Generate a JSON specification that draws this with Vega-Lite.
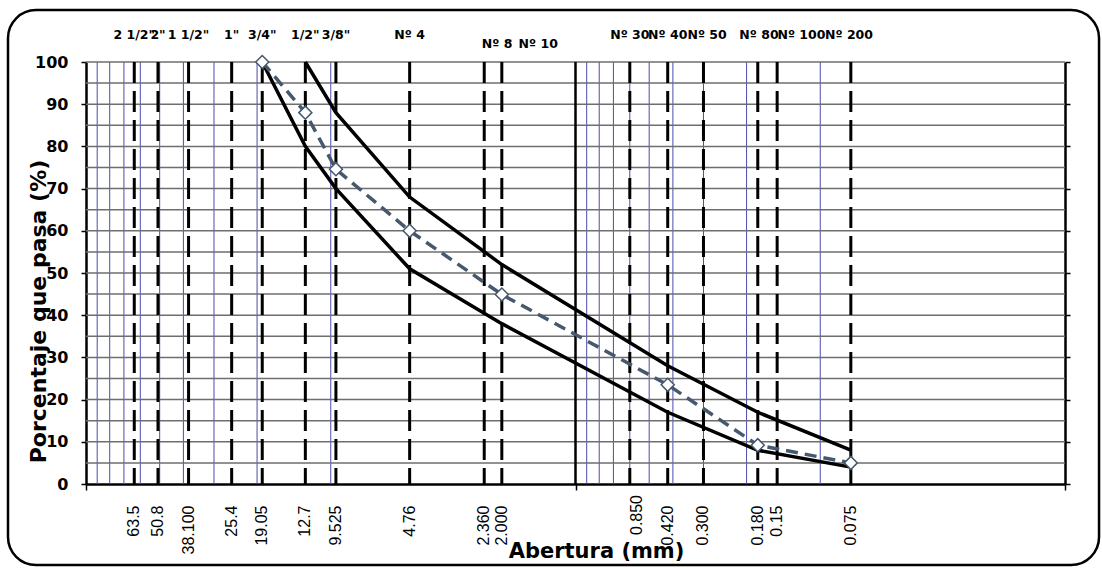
{
  "$schema": "https://vega.github.io/schema/vega-lite/v6.json",
  "width": 979,
  "height": 422,
  "autosize": {"type": "none"},
  "padding": {"left": 86, "top": 62, "right": 37, "bottom": 84},
  "background": "white",
  "config": {"view": {"stroke": null}, "font": "DejaVu Sans"},
  "datasets": {
    "sieves": [
      {"pos": 63.5, "lx": 63.5, "ly": -5.1, "label": "63.5"},
      {"pos": 50.8, "lx": 50.8, "ly": -5.1, "label": "50.8"},
      {"pos": 38.1, "lx": 38.1, "ly": -5.1, "label": "38.100"},
      {"pos": 25.4, "lx": 25.4, "ly": -5.1, "label": "25.4"},
      {"pos": 19.05, "lx": 19.05, "ly": -5.1, "label": "19.05"},
      {"pos": 12.7, "lx": 12.7, "ly": -5.1, "label": "12.7"},
      {"pos": 9.525, "lx": 9.525, "ly": -5.1, "label": "9.525"},
      {"pos": 4.76, "lx": 4.76, "ly": -5.1, "label": "4.76"},
      {"pos": 2.36, "lx": 2.36, "ly": -5.1, "label": "2.360"},
      {"pos": 2.0, "lx": 2.0, "ly": -5.1, "label": "2.000"},
      {"pos": 0.6, "lx": 0.562, "ly": -2.6, "label": "0.850"},
      {"pos": 0.42, "lx": 0.42, "ly": -5.1, "label": "0.420"},
      {"pos": 0.3, "lx": 0.3, "ly": -5.1, "label": "0.300"},
      {"pos": 0.18, "lx": 0.18, "ly": -5.1, "label": "0.180"},
      {"pos": 0.15, "lx": 0.15, "ly": -5.1, "label": "0.15"},
      {"pos": 0.075, "lx": 0.075, "ly": -5.1, "label": "0.075"}
    ],
    "names": [
      {"lx": 63.5, "ly": 106.5, "label": "2 1/2\""},
      {"lx": 50.8, "ly": 106.5, "label": "2\""},
      {"lx": 38.1, "ly": 106.5, "label": "1 1/2\""},
      {"lx": 25.4, "ly": 106.5, "label": "1\""},
      {"lx": 19.05, "ly": 106.5, "label": "3/4\""},
      {"lx": 12.7, "ly": 106.5, "label": "1/2\""},
      {"lx": 9.525, "ly": 106.5, "label": "3/8\""},
      {"lx": 4.76, "ly": 106.5, "label": "Nº 4"},
      {"lx": 2.09, "ly": 104.3, "label": "Nº 8"},
      {"lx": 1.42, "ly": 104.3, "label": "Nº 10"},
      {"lx": 0.6, "ly": 106.5, "label": "Nº 30"},
      {"lx": 0.42, "ly": 106.5, "label": "Nº 40"},
      {"lx": 0.29, "ly": 106.5, "label": "Nº 50"},
      {"lx": 0.178, "ly": 106.5, "label": "Nº 80"},
      {"lx": 0.1193, "ly": 106.5, "label": "Nº 100"},
      {"lx": 0.0763, "ly": 106.5, "label": "Nº 200"}
    ],
    "limits": [
      {"serie": "sup", "size": 12.7, "pct": 100},
      {"serie": "sup", "size": 9.525, "pct": 88},
      {"serie": "sup", "size": 4.76, "pct": 68},
      {"serie": "sup", "size": 2.0, "pct": 52},
      {"serie": "sup", "size": 0.42, "pct": 28},
      {"serie": "sup", "size": 0.18, "pct": 17},
      {"serie": "sup", "size": 0.075, "pct": 8},
      {"serie": "inf", "size": 19.05, "pct": 100},
      {"serie": "inf", "size": 12.7, "pct": 80},
      {"serie": "inf", "size": 9.525, "pct": 70},
      {"serie": "inf", "size": 4.76, "pct": 51},
      {"serie": "inf", "size": 2.0, "pct": 38},
      {"serie": "inf", "size": 0.42, "pct": 17},
      {"serie": "inf", "size": 0.18, "pct": 8},
      {"serie": "inf", "size": 0.075, "pct": 4}
    ],
    "mix": [
      {"size": 19.05, "pct": 100},
      {"size": 12.7, "pct": 88},
      {"size": 9.525, "pct": 74.6},
      {"size": 4.76, "pct": 60},
      {"size": 2.0, "pct": 44.9},
      {"size": 0.42, "pct": 23.5},
      {"size": 0.18, "pct": 9.2},
      {"size": 0.075, "pct": 5}
    ]
  },
  "resolve": {"axis": {"x": "independent", "y": "independent"}},
  "layer": [
    {
      "data": {"values": [{"v": 90}, {"v": 80}, {"v": 70}, {"v": 60}, {"v": 50}, {"v": 40}, {"v": 30}, {"v": 20}, {"v": 10}, {"v": 0.9}, {"v": 0.8}, {"v": 0.7}, {"v": 0.6}, {"v": 0.5}, {"v": 0.4}, {"v": 0.3}, {"v": 0.2}, {"v": 0.1}]},
      "mark": {"type": "rule", "color": "#4b4bb0", "strokeWidth": 1},
      "encoding": {
        "x": {
          "field": "v", "type": "quantitative",
          "scale": {"type": "log", "domain": [0.01, 100], "reverse": true, "nice": false},
          "axis": {
            "orient": "bottom",
            "values": [100, 1, 0.01],
            "labelExpr": "''",
            "grid": false,
            "tickSize": 6, "tickColor": "black", "tickWidth": 1.5,
            "domainColor": "black", "domainWidth": 2.5,
            "title": "Abertura (mm)",
            "titleFont": "DejaVu Sans", "titleFontSize": 21, "titleFontWeight": "bold", "titleColor": "black",
            "titleX": 510, "titleY": 73, "titleAlign": "center", "titleBaseline": "alphabetic"
          }
        }
      }
    },
    {
      "data": {"values": [{"v": 5}, {"v": 10}, {"v": 15}, {"v": 20}, {"v": 25}, {"v": 30}, {"v": 35}, {"v": 40}, {"v": 45}, {"v": 50}, {"v": 55}, {"v": 60}, {"v": 65}, {"v": 70}, {"v": 75}, {"v": 80}, {"v": 85}, {"v": 90}, {"v": 95}, {"v": 100}]},
      "mark": {"type": "rule", "color": "#6e6e6e", "strokeWidth": 1.5},
      "encoding": {
        "y": {
          "field": "v", "type": "quantitative",
          "scale": {"domain": [0, 100], "nice": false, "zero": false},
          "axis": {
            "orient": "left",
            "values": [0, 10, 20, 30, 40, 50, 60, 70, 80, 90, 100],
            "grid": false,
            "labelFont": "DejaVu Sans", "labelFontSize": 16, "labelFontWeight": "bold", "labelColor": "black",
            "labelPadding": 13, "labelFlush": false, "labelOverlap": false,
            "tickSize": 5, "tickColor": "black", "tickWidth": 1.5,
            "domainColor": "black", "domainWidth": 2.5,
            "title": "Porcentaje que pasa (%)",
            "titleFont": "DejaVu Sans", "titleFontSize": 22, "titleFontWeight": "bold", "titleColor": "black",
            "titleAngle": -90, "titleX": -41, "titleY": 249, "titleAlign": "center", "titleBaseline": "alphabetic"
          }
        }
      }
    },
    {
      "data": {"values": [{}]},
      "mark": {"type": "rect", "filled": false, "stroke": "black", "strokeWidth": 2.5, "cornerRadius": 28},
      "encoding": {
        "x": {"datum": 208.3, "type": "quantitative", "axis": null},
        "x2": {"datum": 0.00726},
        "y": {"datum": 112.3, "type": "quantitative", "axis": null},
        "y2": {"datum": -19.2}
      }
    },
    {
      "data": {"values": [{"v": 1}]},
      "mark": {"type": "rule", "color": "black", "strokeWidth": 2.5},
      "encoding": {"x": {"field": "v", "type": "quantitative", "axis": null}}
    },
    {
      "data": {"name": "sieves"},
      "mark": {"type": "rule", "color": "black", "strokeWidth": 3, "strokeDash": [21, 8]},
      "encoding": {"x": {"field": "pos", "type": "quantitative", "axis": null}}
    },
    {
      "data": {"name": "limits"},
      "mark": {"type": "line", "color": "black", "strokeWidth": 3.5},
      "encoding": {
        "x": {"field": "size", "type": "quantitative", "axis": null},
        "y": {
          "field": "pct", "type": "quantitative",
          "axis": {
            "orient": "right",
            "values": [0, 10, 20, 30, 40, 50, 60, 70, 80, 90, 100],
            "labels": false, "grid": false, "title": null,
            "tickSize": 5, "tickColor": "black", "tickWidth": 1.5,
            "domainColor": "black", "domainWidth": 2.5
          }
        },
        "detail": {"field": "serie"}
      }
    },
    {
      "data": {"name": "mix"},
      "mark": {"type": "line", "color": "#46586e", "strokeWidth": 3.5, "strokeDash": [12, 7]},
      "encoding": {
        "x": {"field": "size", "type": "quantitative", "axis": null},
        "y": {"field": "pct", "type": "quantitative", "axis": null}
      }
    },
    {
      "data": {"name": "mix"},
      "mark": {"type": "point", "shape": "diamond", "filled": true, "fill": "white", "stroke": "#46586e", "strokeWidth": 1.5, "size": 170, "opacity": 1},
      "encoding": {
        "x": {"field": "size", "type": "quantitative", "axis": null},
        "y": {"field": "pct", "type": "quantitative", "axis": null}
      }
    },
    {
      "data": {"name": "names"},
      "mark": {"type": "text", "font": "DejaVu Sans", "fontSize": 12.5, "fontWeight": "bold", "color": "black", "align": "center", "baseline": "middle"},
      "encoding": {
        "x": {"field": "lx", "type": "quantitative", "axis": null},
        "y": {"field": "ly", "type": "quantitative", "axis": null},
        "text": {"field": "label"}
      }
    },
    {
      "data": {"name": "sieves"},
      "mark": {"type": "text", "font": "Liberation Sans", "fontSize": 16, "angle": 270, "align": "right", "baseline": "middle", "color": "black"},
      "encoding": {
        "x": {"field": "lx", "type": "quantitative", "axis": null},
        "y": {"field": "ly", "type": "quantitative", "axis": null},
        "text": {"field": "label"}
      }
    }
  ]
}
